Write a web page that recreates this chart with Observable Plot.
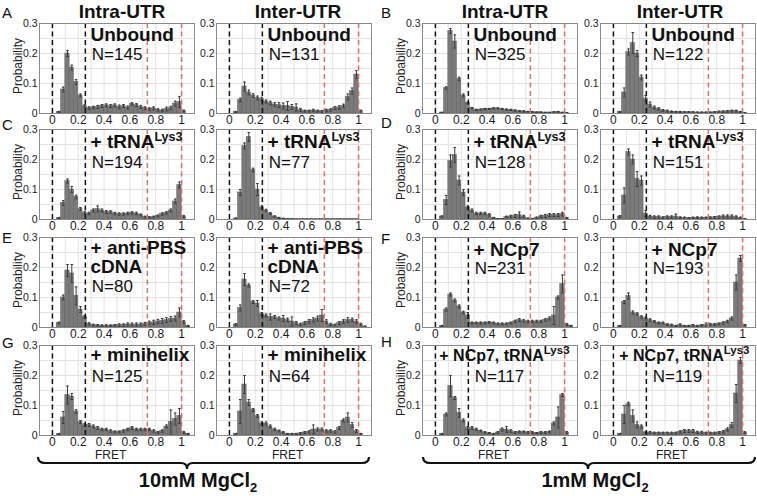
<!DOCTYPE html>
<html><head><meta charset="utf-8">
<script src="https://cdn.jsdelivr.net/npm/d3@7"></script>
<script src="https://cdn.jsdelivr.net/npm/@observablehq/plot@0.6"></script>
<style>
html,body{margin:0;padding:0;background:#fff;}
#wrap{position:relative;width:757px;height:496px;overflow:hidden;font-family:"Liberation Sans",Arial,sans-serif;}
.panel{position:absolute;}
#overlay{position:absolute;left:0;top:0;}
</style></head><body><div id="wrap"></div>
<script>
// ---------- DATA ----------
// Histogram bins: FRET bin k spans [k/30, (k+1)/30], k = 0..32
const binCount = 33;
const binWidth = 1 / 30;

const A_intra = [0, 0.005, 0.08, 0.2, 0.153, 0.105, 0.06, 0.025, 0.018, 0.02, 0.022, 0.025, 0.027, 0.025, 0.027, 0.022, 0.025, 0.02, 0.032, 0.028, 0.022, 0.018, 0.015, 0.017, 0.012, 0.01, 0.015, 0.018, 0.033, 0.038, 0.008, 0, 0];
const A_intra_err = [0, 0.002, 0.008, 0.01, 0.008, 0.008, 0.005, 0.004, 0.004, 0.004, 0.005, 0.005, 0.005, 0.005, 0.005, 0.006, 0.005, 0.005, 0.004, 0.005, 0.005, 0.004, 0.004, 0.005, 0.004, 0.004, 0.006, 0.006, 0.008, 0.018, 0.003, 0, 0];
const A_inter = [0, 0.005, 0.045, 0.09, 0.07, 0.06, 0.052, 0.048, 0.04, 0.035, 0.03, 0.028, 0.025, 0.025, 0.022, 0.02, 0.012, 0.008, 0.008, 0.01, 0.008, 0.007, 0.01, 0.012, 0.018, 0.02, 0.025, 0.055, 0.075, 0.13, 0.008, 0, 0];
const A_inter_err = [0, 0.002, 0.006, 0.015, 0.008, 0.006, 0.006, 0.006, 0.005, 0.006, 0.006, 0.008, 0.01, 0.015, 0.008, 0.012, 0.005, 0.003, 0.003, 0.004, 0.003, 0.003, 0.004, 0.004, 0.005, 0.006, 0.006, 0.01, 0.01, 0.013, 0.003, 0, 0];
const B_intra = [0, 0.003, 0.085, 0.275, 0.24, 0.115, 0.06, 0.035, 0.018, 0.012, 0.013, 0.015, 0.015, 0.017, 0.017, 0.015, 0.013, 0.012, 0.01, 0.008, 0.007, 0.006, 0.005, 0.004, 0.004, 0.003, 0.003, 0.004, 0.005, 0.003, 0.002, 0, 0];
const B_intra_err = [0, 0.001, 0.004, 0.008, 0.022, 0.006, 0.005, 0.003, 0.002, 0.002, 0.002, 0.002, 0.002, 0.002, 0.002, 0.002, 0.002, 0.002, 0.002, 0.002, 0.002, 0.001, 0.001, 0.001, 0.001, 0.001, 0.001, 0.002, 0.002, 0.001, 0.001, 0, 0];
const B_inter = [0, 0.005, 0.07, 0.205, 0.235, 0.2, 0.12, 0.05, 0.03, 0.02, 0.015, 0.01, 0.008, 0.006, 0.005, 0.005, 0.004, 0.004, 0.004, 0.003, 0.003, 0.003, 0.003, 0.004, 0.005, 0.006, 0.007, 0.008, 0.008, 0.005, 0.002, 0, 0];
const B_inter_err = [0, 0.002, 0.015, 0.01, 0.035, 0.01, 0.008, 0.01, 0.008, 0.005, 0.004, 0.003, 0.003, 0.002, 0.002, 0.002, 0.002, 0.002, 0.002, 0.002, 0.002, 0.002, 0.002, 0.002, 0.003, 0.003, 0.003, 0.003, 0.003, 0.002, 0.001, 0, 0];
const C_intra = [0, 0.005, 0.055, 0.128, 0.1, 0.075, 0.035, 0.022, 0.02, 0.03, 0.035, 0.03, 0.025, 0.025, 0.02, 0.018, 0.018, 0.02, 0.022, 0.02, 0.015, 0.008, 0.007, 0.008, 0.012, 0.018, 0.022, 0.03, 0.06, 0.115, 0.01, 0, 0];
const C_intra_err = [0, 0.002, 0.008, 0.007, 0.01, 0.006, 0.005, 0.004, 0.004, 0.005, 0.01, 0.005, 0.005, 0.004, 0.004, 0.004, 0.004, 0.004, 0.004, 0.004, 0.003, 0.003, 0.002, 0.003, 0.003, 0.004, 0.004, 0.005, 0.008, 0.01, 0.003, 0, 0];
const C_inter = [0, 0.003, 0.09, 0.245, 0.275, 0.165, 0.1, 0.04, 0.03, 0.02, 0.01, 0.005, 0.003, 0.002, 0.001, 0.001, 0.001, 0.001, 0.001, 0.001, 0.001, 0.001, 0.001, 0.001, 0.001, 0.001, 0.001, 0.001, 0.001, 0.001, 0, 0, 0];
const C_inter_err = [0, 0.002, 0.01, 0.01, 0.015, 0.006, 0.02, 0.005, 0.004, 0.003, 0.002, 0.002, 0.001, 0.001, 0.001, 0, 0, 0, 0, 0, 0, 0, 0, 0, 0, 0, 0, 0, 0, 0, 0, 0, 0];
const D_intra = [0, 0.01, 0.065, 0.195, 0.215, 0.13, 0.09, 0.04, 0.03, 0.02, 0.02, 0.02, 0.015, 0.005, 0.002, 0.002, 0.008, 0.01, 0.012, 0.015, 0.01, 0.003, 0.002, 0.005, 0.01, 0.012, 0.015, 0.015, 0.015, 0.018, 0.005, 0, 0];
const D_intra_err = [0, 0.002, 0.015, 0.02, 0.025, 0.015, 0.01, 0.005, 0.005, 0.004, 0.004, 0.004, 0.004, 0.002, 0.001, 0.001, 0.003, 0.004, 0.005, 0.01, 0.004, 0.002, 0.001, 0.003, 0.004, 0.005, 0.005, 0.005, 0.005, 0.006, 0.002, 0, 0];
const D_inter = [0, 0.01, 0.08, 0.225, 0.2, 0.135, 0.13, 0.02, 0.01, 0.008, 0.008, 0.006, 0.008, 0.008, 0.01, 0.006, 0.005, 0.004, 0.005, 0.006, 0.005, 0.005, 0.006, 0.007, 0.008, 0.01, 0.01, 0.01, 0.008, 0.005, 0.002, 0, 0];
const D_inter_err = [0, 0.003, 0.025, 0.01, 0.015, 0.025, 0.015, 0.01, 0.004, 0.004, 0.004, 0.003, 0.004, 0.004, 0.008, 0.003, 0.003, 0.002, 0.003, 0.003, 0.003, 0.003, 0.003, 0.003, 0.004, 0.005, 0.005, 0.005, 0.004, 0.003, 0.001, 0, 0];
const E_intra = [0, 0.015, 0.1, 0.19, 0.18, 0.105, 0.06, 0.035, 0.012, 0.008, 0.007, 0.006, 0.006, 0.006, 0.007, 0.008, 0.008, 0.01, 0.01, 0.01, 0.01, 0.012, 0.015, 0.017, 0.02, 0.022, 0.025, 0.028, 0.03, 0.05, 0.018, 0.005, 0];
const E_intra_err = [0, 0.003, 0.008, 0.02, 0.03, 0.03, 0.01, 0.005, 0.004, 0.003, 0.003, 0.003, 0.003, 0.003, 0.003, 0.004, 0.004, 0.005, 0.005, 0.005, 0.005, 0.005, 0.006, 0.007, 0.007, 0.008, 0.008, 0.008, 0.008, 0.015, 0.005, 0.002, 0];
const E_inter = [0, 0.01, 0.065, 0.16, 0.14, 0.085, 0.08, 0.045, 0.04, 0.035, 0.035, 0.03, 0.03, 0.025, 0.02, 0.015, 0.01, 0.015, 0.02, 0.025, 0.03, 0.04, 0.02, 0.01, 0.008, 0.015, 0.02, 0.025, 0.025, 0.02, 0.01, 0.003, 0];
const E_inter_err = [0, 0.003, 0.01, 0.02, 0.005, 0.005, 0.01, 0.005, 0.005, 0.01, 0.005, 0.005, 0.01, 0.006, 0.015, 0.005, 0.004, 0.005, 0.006, 0.007, 0.008, 0.02, 0.006, 0.004, 0.003, 0.005, 0.006, 0.008, 0.006, 0.006, 0.004, 0.002, 0];
const F_intra = [0, 0.005, 0.06, 0.11, 0.09, 0.07, 0.05, 0.04, 0.015, 0.015, 0.015, 0.015, 0.017, 0.015, 0.012, 0.012, 0.012, 0.015, 0.02, 0.025, 0.022, 0.02, 0.02, 0.02, 0.02, 0.025, 0.03, 0.04, 0.1, 0.145, 0.01, 0.005, 0];
const F_intra_err = [0, 0.002, 0.005, 0.005, 0.005, 0.005, 0.004, 0.01, 0.003, 0.003, 0.003, 0.003, 0.003, 0.003, 0.003, 0.003, 0.003, 0.003, 0.004, 0.005, 0.004, 0.004, 0.004, 0.004, 0.004, 0.004, 0.005, 0.03, 0.005, 0.03, 0.003, 0.002, 0];
const F_inter = [0, 0.005, 0.085, 0.105, 0.05, 0.045, 0.035, 0.03, 0.025, 0.02, 0.015, 0.015, 0.01, 0.008, 0.005, 0.008, 0.005, 0.005, 0.007, 0.005, 0.007, 0.008, 0.01, 0.01, 0.012, 0.015, 0.02, 0.03, 0.15, 0.23, 0.008, 0, 0];
const F_inter_err = [0, 0.002, 0.005, 0.01, 0.005, 0.004, 0.004, 0.005, 0.004, 0.003, 0.003, 0.003, 0.003, 0.003, 0.002, 0.004, 0.002, 0.002, 0.003, 0.002, 0.003, 0.007, 0.003, 0.003, 0.003, 0.004, 0.004, 0.005, 0.025, 0.01, 0.002, 0, 0];
const G_intra = [0, 0.005, 0.06, 0.135, 0.13, 0.08, 0.045, 0.035, 0.035, 0.03, 0.025, 0.02, 0.02, 0.015, 0.012, 0.012, 0.015, 0.02, 0.025, 0.02, 0.02, 0.02, 0.02, 0.015, 0.01, 0.015, 0.03, 0.045, 0.055, 0.065, 0.01, 0.005, 0];
const G_intra_err = [0, 0.002, 0.02, 0.03, 0.01, 0.006, 0.005, 0.005, 0.005, 0.005, 0.005, 0.004, 0.004, 0.004, 0.003, 0.003, 0.004, 0.004, 0.005, 0.004, 0.004, 0.004, 0.004, 0.004, 0.003, 0.004, 0.005, 0.04, 0.02, 0.025, 0.003, 0.002, 0];
const G_inter = [0, 0.005, 0.08, 0.17, 0.11, 0.085, 0.065, 0.04, 0.04, 0.03, 0.02, 0.015, 0.01, 0.005, 0.005, 0.005, 0.007, 0.01, 0.012, 0.02, 0.02, 0.02, 0.015, 0.015, 0.012, 0.025, 0.05, 0.06, 0.035, 0.015, 0.005, 0, 0];
const G_inter_err = [0, 0.002, 0.04, 0.03, 0.01, 0.005, 0.005, 0.005, 0.005, 0.005, 0.004, 0.003, 0.003, 0.002, 0.002, 0.002, 0.003, 0.003, 0.004, 0.015, 0.005, 0.005, 0.004, 0.004, 0.004, 0.005, 0.005, 0.015, 0.008, 0.005, 0.002, 0, 0];
const H_intra = [0, 0.005, 0.07, 0.165, 0.125, 0.075, 0.05, 0.025, 0.025, 0.02, 0.015, 0.01, 0.008, 0.005, 0.01, 0.02, 0.02, 0.015, 0.01, 0.012, 0.012, 0.01, 0.01, 0.008, 0.01, 0.01, 0.012, 0.04, 0.06, 0.135, 0.01, 0, 0];
const H_intra_err = [0, 0.002, 0.005, 0.035, 0.005, 0.015, 0.005, 0.005, 0.005, 0.004, 0.003, 0.003, 0.002, 0.002, 0.003, 0.005, 0.01, 0.004, 0.003, 0.003, 0.003, 0.003, 0.003, 0.002, 0.003, 0.003, 0.003, 0.005, 0.035, 0.005, 0.003, 0, 0];
const H_inter = [0, 0.005, 0.07, 0.105, 0.065, 0.035, 0.03, 0.01, 0.01, 0.008, 0.008, 0.008, 0.008, 0.008, 0.008, 0.012, 0.015, 0.015, 0.015, 0.01, 0.01, 0.008, 0.008, 0.008, 0.01, 0.012, 0.02, 0.035, 0.14, 0.25, 0.01, 0, 0];
const H_inter_err = [0, 0.002, 0.03, 0.006, 0.02, 0.01, 0.005, 0.003, 0.003, 0.003, 0.003, 0.003, 0.003, 0.003, 0.003, 0.004, 0.005, 0.005, 0.005, 0.004, 0.004, 0.003, 0.003, 0.003, 0.003, 0.004, 0.005, 0.008, 0.03, 0.01, 0.003, 0, 0];

const panelLetters = [["A", "B"], ["C", "D"], ["E", "F"], ["G", "H"]];
const columnTitles = ["Intra-UTR", "Inter-UTR", "Intra-UTR", "Inter-UTR"];
const conditionLabels = [
  ["Unbound", "Unbound"],
  ["+ tRNA^Lys3", "+ tRNA^Lys3"],
  ["+ anti-PBS\ncDNA", "+ NCp7"],
  ["+ minihelix", "+ NCp7, tRNA^Lys3"]
];
const nCounts = [[145, 131, 325, 122], [194, 77, 128, 151], [80, 72, 231, 193], [125, 64, 117, 119]];
const groupLabels = ["10mM MgCl", "1mM MgCl"];
const xTicks = [0, 0.2, 0.4, 0.6, 0.8, 1];
const yTicks = [0, 0.1, 0.2, 0.3];
const lowFretLines = [0, 0.255];
const highFretLines = [0.735, 1.0];

const series = [
  [[A_intra, A_intra_err], [A_inter, A_inter_err], [B_intra, B_intra_err], [B_inter, B_inter_err]],
  [[C_intra, C_intra_err], [C_inter, C_inter_err], [D_intra, D_intra_err], [D_inter, D_inter_err]],
  [[E_intra, E_intra_err], [E_inter, E_inter_err], [F_intra, F_intra_err], [F_inter, F_inter_err]],
  [[G_intra, G_intra_err], [G_inter, G_inter_err], [H_intra, H_intra_err], [H_inter, H_inter_err]]
];

// ---------- LAYOUT ----------
const FONT = '"Liberation Sans", Arial, Helvetica, sans-serif';
const colLeft = [9, 186, 392, 570];
const rowTop = [18, 124, 232, 340];
const mL = 30, mR = 2, mT = 5, mB = 18, plotW = 155, plotH = 90;
const firstBaseline = [0.241, 0.238, 0.245, 0.25];
const nBaseline = [0.18, 0.171, 0.12, 0.18];
const lineStep = [0.056, 0.056, 0.0625, 0.056];

const wrap = document.getElementById("wrap");
const fmt = d => (d === 0 ? "0" : d === 1 ? "1" : d3.format(".1f")(d));

function applySup(svg, supSize) {
  svg.querySelectorAll("text, tspan").forEach(node => {
    if (node.children.length === 0 && node.textContent.includes("^")) {
      const [main, sup] = node.textContent.split("^");
      node.textContent = main;
      const t = document.createElementNS("http://www.w3.org/2000/svg", "tspan");
      t.setAttribute("dy", "-7");
      t.setAttribute("font-size", supSize);
      t.textContent = sup;
      node.appendChild(t);
    }
  });
}
function shrinkYTicks(svg) {
  svg.querySelectorAll("g[aria-label]").forEach(gEl => {
    const lab = gEl.getAttribute("aria-label");
    if (lab === "y-axis tick label" || lab === "y-axis") {
      gEl.style.fontSize = "10.5px";
      gEl.querySelectorAll("text").forEach(t => t.style.fontSize = "10.5px");
    }
  });
}

for (let r = 0; r < 4; r++) {
  for (let c = 0; c < 4; c++) {
    const [vals, errs] = series[r][c];
    const bins = vals.map((p, k) => ({x1: k * binWidth, x2: (k + 1) * binWidth, p}));
    const errRows = vals.map((p, k) => ({x: (k + 0.5) * binWidth, lo: Math.max(0, p - errs[k]), hi: p + errs[k], e: errs[k]})).filter(d => d.e > 0);
    const g = c < 2 ? 0 : 1;
    const lines = conditionLabels[r][g].split("\n");
    const special = (r === 3 && g === 1);
    const xb = special ? (c === 2 ? 0.03 : 0.045) : 0.295;
    const first = lines.length > 1 ? firstBaseline[r] : (r === 2 ? 0.239 : firstBaseline[r]);
    const texts = lines.map((t, i) => ({t, x: xb, y: first - i * lineStep[r], bold: true}));
    const nY = lines.length > 1 ? nBaseline[r] : (r === 2 ? 0.18 : nBaseline[r]);
    texts.push({t: "N=" + nCounts[r][c], x: 0.305, y: nY, bold: false});

    const h = mT + plotH + mB;
    const plot = Plot.plot({
      width: mL + plotW + mR,
      height: h,
      marginLeft: mL, marginRight: mR, marginTop: mT, marginBottom: mB,
      style: {fontFamily: FONT, fontSize: "12px", background: "transparent", overflow: "visible", color: "#1a1a1a"},
      x: {domain: [-0.1, 1.1], ticks: xTicks, tickFormat: fmt, tickSize: 0, tickPadding: 2, label: null},
      y: {domain: [0, 0.3], ticks: yTicks, tickFormat: fmt, tickSize: 0, tickPadding: 2, label: null},
      marks: [
        Plot.ruleX(d3.range(-1, 11).map(i => i / 10), {stroke: "#e2e2e2", strokeWidth: 1}),
        Plot.ruleY(d3.range(1, 6).map(i => i * 0.05), {stroke: "#e2e2e2", strokeWidth: 1}),
        Plot.rectY(bins, {x1: "x1", x2: "x2", y: "p", fill: "#7b7b7b", stroke: "#5c5c5c", strokeWidth: 0.5}),
        Plot.ruleX(errRows, {x: "x", y1: "lo", y2: "hi", stroke: "#3a3a3a", strokeWidth: 1}),
        Plot.link(errRows, {x1: d => d.x - 0.01, x2: d => d.x + 0.01, y1: "hi", y2: "hi", stroke: "#3a3a3a", strokeWidth: 1}),
        Plot.link(errRows, {x1: d => d.x - 0.01, x2: d => d.x + 0.01, y1: "lo", y2: "lo", stroke: "#3a3a3a", strokeWidth: 1}),
        Plot.ruleX(highFretLines, {stroke: "#d9706c", strokeWidth: 1.5, strokeDasharray: "5,3.5"}),
        Plot.ruleX(lowFretLines, {stroke: "#111", strokeWidth: 1.5, strokeDasharray: "5,3.5"}),
        Plot.frame({stroke: "#8a8a8a", strokeWidth: 1}),
        Plot.text(texts.filter(d => d.bold), {x: "x", y: "y", text: "t", textAnchor: "start", lineAnchor: "bottom", fontWeight: "bold", fontSize: special ? 16 : 19, fill: "#111"}),
        Plot.text(texts.filter(d => !d.bold), {x: "x", y: "y", text: "t", textAnchor: "start", lineAnchor: "bottom", fontSize: 17, fill: "#111"})
      ]
    });
    applySup(plot, special ? "11.5" : "12.5");
    shrinkYTicks(plot);
    const div = document.createElement("div");
    div.className = "panel";
    div.style.left = colLeft[c] + "px";
    div.style.top = rowTop[r] + "px";
    div.appendChild(plot);
    wrap.appendChild(div);
  }
}

// ---------- OVERLAY (titles, letters, axis titles, braces) ----------
const ov = d3.select(wrap).append("svg").attr("id", "overlay").attr("width", 757).attr("height", 496)
  .style("font-family", FONT);
const titleX = [122, 298, 505, 680];
columnTitles.forEach((t, i) => ov.append("text").attr("x", titleX[i]).attr("y", 18).attr("text-anchor", "middle")
  .attr("font-size", 19).attr("font-weight", "bold").attr("fill", "#111").text(t));
const letterY = [[18, 18], [130, 128], [243, 244], [348, 347]];
const letterX = [2, 381];
panelLetters.forEach((pair, r) => pair.forEach((L, g) => ov.append("text").attr("x", letterX[g]).attr("y", letterY[r][g])
  .attr("font-size", 15).attr("fill", "#111").text(L)));
// Probability labels (cols 1 and 3)
[[21.5, 0], [404.5, 2]].forEach(([bx, c]) => {
  rowTop.forEach(t => {
    const cy = t + mT + plotH / 2 - 2;
    ov.append("text").attr("transform", `translate(${bx},${cy}) rotate(-90)`).attr("text-anchor", "middle")
      .attr("font-size", 12).attr("fill", "#222").text("Probability");
  });
});
// FRET labels
colLeft.forEach(l => ov.append("text").attr("x", l + mL + (0.455 + 0.1) * plotW / 1.2).attr("y", 459)
  .attr("text-anchor", "middle").attr("font-size", 12).attr("fill", "#222").text("FRET"));
// braces
function brace(x0, x1, tip) {
  const yT = 457, yM = 463, yP = 469;
  return `M${x0},${yT} Q${x0},${yM} ${x0 + 7},${yM} L${tip - 6},${yM} Q${tip},${yM} ${tip},${yP} Q${tip},${yM} ${tip + 6},${yM} L${x1 - 7},${yM} Q${x1},${yM} ${x1},${yT}`;
}
ov.append("path").attr("d", brace(38, 369, 187)).attr("fill", "none").attr("stroke", "#111").attr("stroke-width", 2.2);
ov.append("path").attr("d", brace(423, 755, 588)).attr("fill", "none").attr("stroke", "#111").attr("stroke-width", 2.2);
[[198, groupLabels[0]], [595, groupLabels[1]]].forEach(([x, t]) => {
  const tx = ov.append("text").attr("x", x).attr("y", 487).attr("text-anchor", "middle")
    .attr("font-size", 20).attr("font-weight", "bold").attr("fill", "#111");
  tx.append("tspan").text(t);
  tx.append("tspan").attr("dy", 5).attr("font-size", 13).text("2");
});
</script></body></html>
